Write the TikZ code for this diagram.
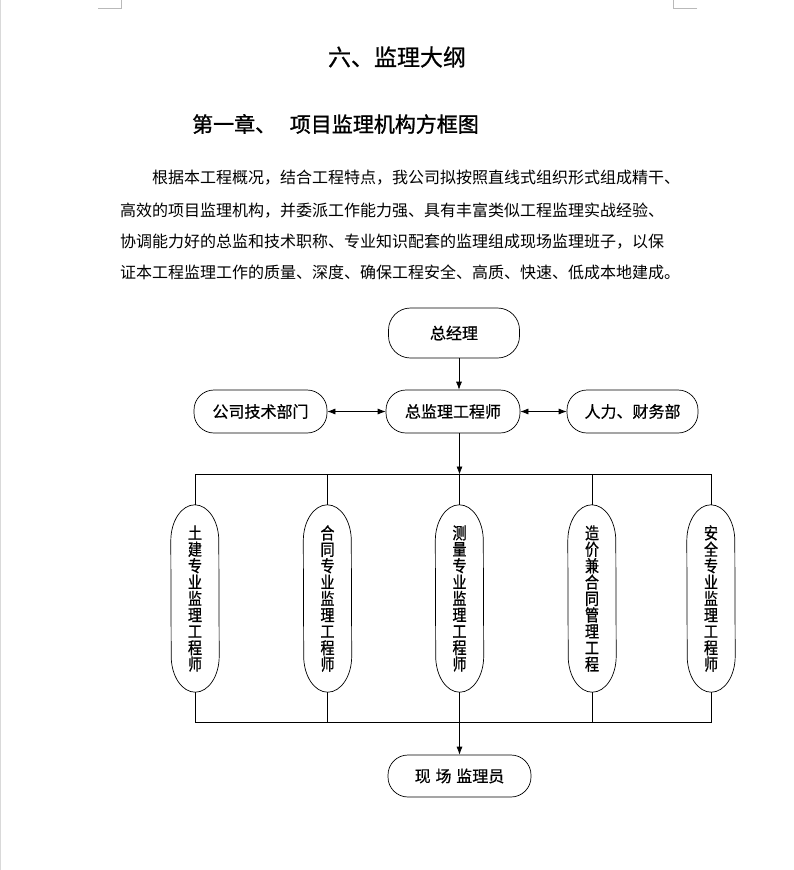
\documentclass[tikz,border=0pt]{standalone}
\usepackage{fontspec}
\usetikzlibrary{shapes.geometric,arrows.meta,positioning}
\setmainfont{Noto Sans CJK SC}
\newfontfamily\cjk{Noto Sans CJK SC}
\newfontfamily\cjkb{Noto Sans CJK SC}[FakeBold=1.2]
\newfontfamily\cjkn{Noto Sans CJK SC}[FakeStretch=0.85,FakeBold=0.9]
\newfontfamily\cjkm{Noto Sans CJK SC}[FakeBold=0.6]
\XeTeXlinebreaklocale "zh"
\XeTeXlinebreakskip=0pt plus 3pt
\tikzset{
  box/.style={draw, line width=0.7pt, rounded corners=20pt, minimum height=43pt, inner sep=0pt, font=\cjkm\fontsize{16}{16}\selectfont},
  oval/.style={rectangle, minimum width=48pt, minimum height=187pt, inner sep=0pt, align=center, font=\cjkn\fontsize{16.5}{16.4}\selectfont},
  arr/.style={line width=0.7pt, -{Latex[length=8pt,width=6pt]}},
  darr/.style={line width=0.7pt, {Latex[length=8pt,width=6pt]}-{Latex[length=8pt,width=6pt]}},
  ln/.style={line width=0.7pt},
  para/.style={anchor=west, inner sep=0pt, font=\cjk\fontsize{16}{16}\selectfont}
}
\newcommand{\ovalline}[1]{%
  \draw[ln] ([yshift=-36pt]#1.north west) arc[start angle=180, end angle=0, x radius=24pt, y radius=36pt]
    -- ([yshift=36pt]#1.south east) arc[start angle=0, end angle=-180, x radius=24pt, y radius=36pt] -- cycle;}
\begin{document}
\begin{tikzpicture}[x=1pt,y=-1pt]
\useasboundingbox (0,0) rectangle (794,870);
\fill[white] (0,0) rectangle (794,870);
% page edge and corner marks
\draw[gray!30, line width=1pt] (0.5,0) -- (0.5,870);
\draw[gray!55, line width=0.8pt] (98,8) -- (121,8) -- (121,0);
\draw[gray!55, line width=0.8pt] (697,8) -- (673,8) -- (673,0);
% title and heading
\node[inner sep=0pt, font=\cjkm\fontsize{23}{23}\selectfont] (title) at (397,57) {六、监理大纲};
\node[anchor=west, inner sep=0pt, font=\cjkb\fontsize{21}{21}\selectfont] (head) at (192,124) {第一章、\hspace{0.65em}项目监理机构方框图};
% paragraph
\node[para] (p1) at (152,178) {根据本工程概况，结合工程特点，我公司拟按照直线式组织形式组成精干、};
\node[para] (p2) at (120,211) {\makebox[560pt][s]{高效的项目监理机构，并委派工作能力强、具有丰富类似工程监理实战经验、}};
\node[para] (p3) at (120,242) {\makebox[560pt][s]{协调能力好的总监和技术职称、专业知识配套的监理组成现场监理班子，以保}};
\node[para] (p4) at (120,272) {证本工程监理工作的质量、深度、确保工程安全、高质、快速、低成本地建成。};
% chart nodes
\node[box, minimum width=131pt, minimum height=50pt, rounded corners=22pt] (zjl) at (454,333) {总经理};
\node[box, minimum width=134pt] (zj) at (453,411.5) {总监理工程师};
\node[box, minimum width=133pt] (gs) at (260.5,411.5) {公司技术部门};
\node[box, minimum width=131pt] (rl) at (632.5,411.5) {人力、财务部};
\node[oval] (e1) at (195,598.5) {土\\建\\专\\业\\监\\理\\工\\程\\师};
\node[oval] (e2) at (327.5,598.5) {合\\同\\专\\业\\监\\理\\工\\程\\师};
\node[oval] (e3) at (459.5,598.5) {测\\量\\专\\业\\监\\理\\工\\程\\师};
\node[oval] (e4) at (592,598.5) {造\\价\\兼\\合\\同\\管\\理\\工\\程};
\node[oval] (e5) at (711,598.5) {安\\全\\专\\业\\监\\理\\工\\程\\师};
\ovalline{e1}\ovalline{e2}\ovalline{e3}\ovalline{e4}\ovalline{e5}
\node[box, minimum width=143pt, minimum height=42pt] (xc) at (459.5,776) {现\hspace{0.3em}场\hspace{0.3em}监理员};
% connectors
\coordinate (bt) at (459.5,474.5);
\coordinate (bb) at (459.5,722.5);
\draw[arr] ([xshift=5pt]zjl.south) -- ([xshift=5pt]zjl.south |- zj.north);
\draw[darr] (gs.east) -- (zj.west);
\draw[darr] (zj.east) -- (rl.west);
\draw[arr] (zj.south -| bt) -- (bt);
\draw[ln] (e1.north) |- (bt) -| (e5.north);
\draw[ln] (e2.north) -- (e2.north |- bt);
\draw[ln] (e3.north) -- (bt);
\draw[ln] (e4.north) -- (e4.north |- bt);
\draw[ln] (e1.south) |- (bb) -| (e5.south);
\draw[ln] (e2.south) -- (e2.south |- bb);
\draw[ln] (e4.south) -- (e4.south |- bb);
\draw[arr] (e3.south) -- (xc.north);
\end{tikzpicture}
\end{document}
